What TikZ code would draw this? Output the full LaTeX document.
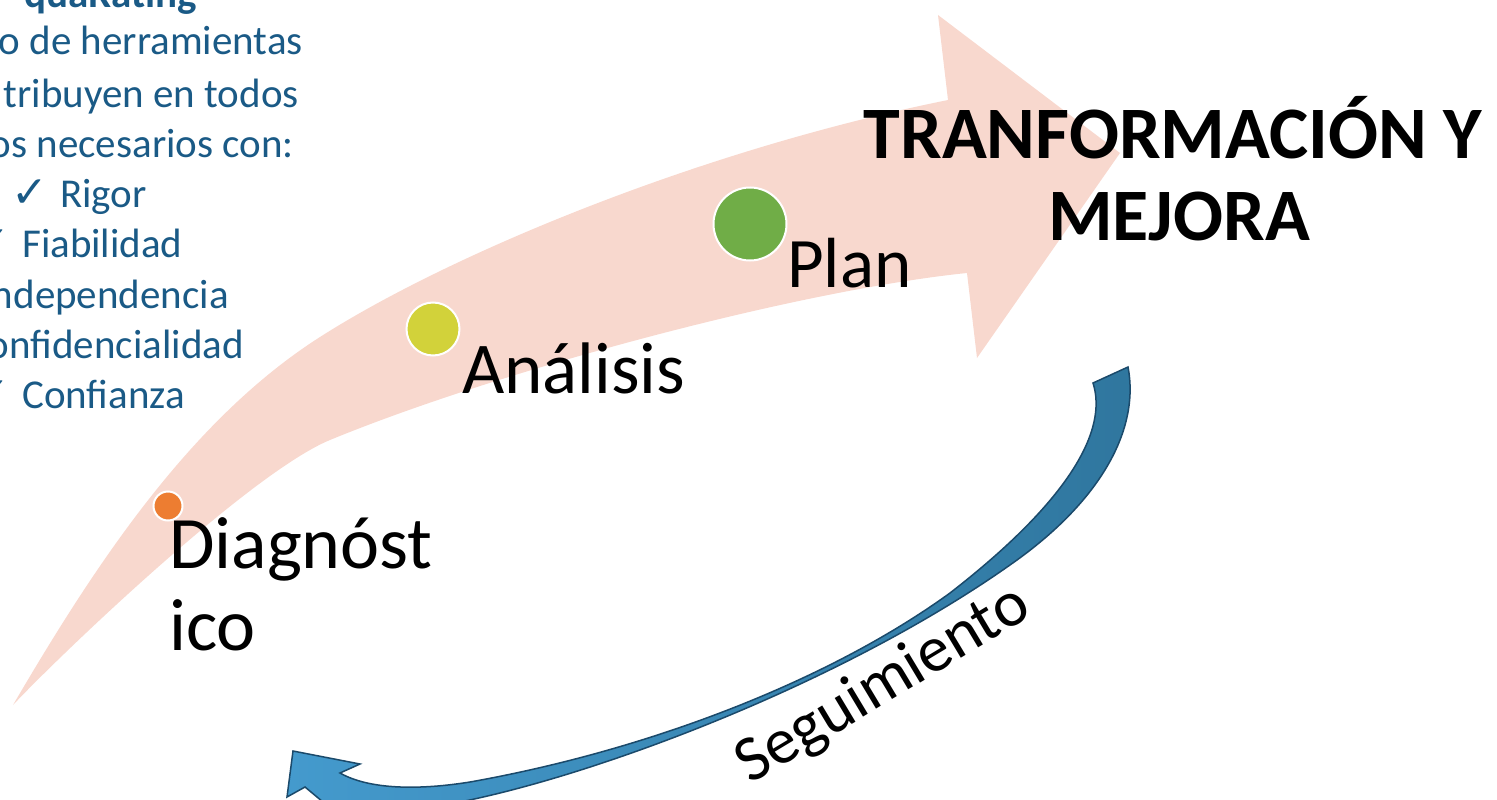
\documentclass[tikz,border=0pt]{standalone}
\usepackage{fontspec}
\setmainfont{Carlito}
\newfontfamily\chkfont{DejaVu Sans}
\usetikzlibrary{positioning}

\definecolor{arrowpink}{HTML}{F8D8CE}
\definecolor{txtblue}{HTML}{1A5A86}
\definecolor{dotorange}{HTML}{ED7D31}
\definecolor{dotlime}{HTML}{D2D23A}
\definecolor{dotgreen}{HTML}{70AD47}
\definecolor{bluedark}{HTML}{2F769E}
\definecolor{bluelight}{HTML}{449ACD}
\definecolor{blueline}{HTML}{1B4A6B}

\newcommand{\chk}{{\chkfont\fontsize{44}{50}\selectfont ✓}}

\begin{document}
\begin{tikzpicture}[x=1pt, y=-1pt,
    dot/.style={circle, draw=white, line width=2pt, inner sep=0pt},
    stage/.style={anchor=base west, inner sep=0pt, font=\fontsize{73}{82}\selectfont},
    title/.style={anchor=base, inner sep=0pt, font=\fontsize{74}{82}\selectfont\bfseries},
    side/.style={inner sep=0pt, text=txtblue, font=\fontsize{41}{50}\selectfont}]
    \useasboundingbox (0,0) rectangle (1497,800);
    \clip (0,0) rectangle (1497,800);

    % big pink arrow
    \fill[arrowpink] (13,705) .. controls (95,565) and (190,420) .. (320,337)
        .. controls (450,254) and (700,150) .. (948,100)
        -- (938,15) -- (1120,153) -- (977,358) -- (967,273)
        .. controls (800,290) and (500,370) .. (330,440)
        .. controls (250,473) and (60,655) .. (13,705) -- cycle;

    % blue return arrow
    \draw[blueline, line width=1.5pt, left color=bluelight, right color=bluedark]
        (1093,383) .. controls (1108,430) and (1070,500) .. (950,593)
        .. controls (830,680) and (650,750) .. (470,782)
        .. controls (420,790) and (370,790) .. (340,773)
        -- (360,764) -- (293,751) -- (287,797) -- (305,787) -- (335,812) -- (440,812) -- (455,803)
        .. controls (600,775) and (850,680) .. (1017,560)
        .. controls (1100,500) and (1140,430) .. (1128,367) -- cycle;

    % stages
    \node[dot, fill=dotorange, minimum size=29pt] (dg) at (168,506) {};
    \node[dot, fill=dotlime, minimum size=53pt] (an) at (433,329) {};
    \node[dot, fill=dotgreen, minimum size=73pt] (pl) at (750,224) {};

    \node[stage, font=\fontsize{74}{82}\selectfont] (diag) at (169,568) {Diagnóst};
    \node[stage, font=\fontsize{74}{82}\selectfont] (diag2) at (169,650) {ico};
    \node[stage] (anal) at (462,393) {Análisis};
    \node[stage, font=\fontsize{71}{82}\selectfont] (plan) at (787,287) {Plan};

    \node[title] (trans) at (1173,158) {TRANFORMACIÓN Y};
    \node[title] (mejora) at (1179,240) {MEJORA};

    \node[anchor=base, rotate=31, inner sep=0pt, font=\fontsize{65}{70}\selectfont] (segui) at (892,700) {Seguimiento};

    % side text
    \node[side, anchor=base east, font=\fontsize{41}{50}\selectfont\bfseries] (head) at (197,8) {quaRating};
    \node[side, anchor=base east] (l1) at (303,55) {o de herramientas};
    \node[side, anchor=base east] (l2) at (299,107) {tribuyen en todos};
    \node[side, anchor=base east] (l3) at (294,157) {os necesarios con:};
    \node[side, anchor=base west] (rigor) at (60,207) {Rigor};
    \node[side, base left=11pt of rigor] (c1) {\chk};
    \node[side, anchor=base west] (fiab) at (22,257) {Fiabilidad};
    \node[side, base left=11pt of fiab] (c2) {\chk};
    \node[side, anchor=base east] (indep) at (229,308) {ndependencia};
    \node[side, anchor=base east] (confi) at (244,358) {onfidencialidad};
    \node[side, anchor=base west] (conf) at (22,408) {Confianza};
    \node[side, base left=11pt of conf] (c3) {\chk};
\end{tikzpicture}
\end{document}
